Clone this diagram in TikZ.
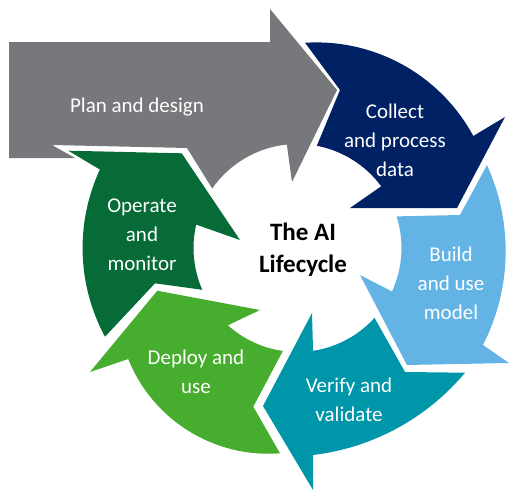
\documentclass[tikz,border=0pt]{standalone}
\usepackage{fontspec}
\setmainfont{Carlito}
\usepackage{tikz}
\usetikzlibrary{calc}
\definecolor{plangray}{RGB}{118,120,123}
\definecolor{collectnavy}{RGB}{0,33,100}
\definecolor{buildblue}{RGB}{99,180,228}
\definecolor{verifyteal}{RGB}{0,150,170}
\definecolor{deploygreen}{RGB}{70,173,46}
\definecolor{operategreen}{RGB}{6,107,55}
\tikzset{%
    stage/.style={%
        text=white, align=center, inner sep=0pt,
        font=\fontsize{21}{29}\selectfont
    },
    hub/.style={%
        text=black, align=center, inner sep=0pt,
        font=\bfseries\fontsize{25}{32}\selectfont
    }
}
\begin{document}
\begin{tikzpicture}[x=1pt,y=-1pt]
    \useasboundingbox (0,0) rectangle (509,490);
    \coordinate (hole) at (297.5,248);
    \fill[plangray] (9,42) -- (270,42) -- (270,9) -- (337,90) -- (292,182)
        -- ($(hole)+(-95.9:104)$) arc[start angle=-95.9, end angle=-145.1, radius=104]
        -- (187,148) -- (52,145) -- (75,158) -- (9,158) -- cycle;
    \fill[collectnavy] (305,42.7) -- (340,90)
        -- ($(hole)+(-79.3:104)$) arc[start angle=-79.3, end angle=-36.4, radius=104]
        -- (350,208) -- (457,208) -- (505,117) -- (473.3,136)
        arc[start angle=-28.4, end angle=-93.6, radius=178.5] -- cycle;
    \fill[buildblue] (487,165) -- (460,215)
        -- ($(hole)+(-17.7:104)$) arc[start angle=-17.7, end angle=24.7, radius=104]
        -- (360,275) -- (407,365) -- (509,363) -- (483,345)
        arc[start angle=27.1, end angle=-24.6, radius=206.5] -- cycle;
    \fill[verifyteal] ($(hole)+(42.2:104)$) -- (405,372) -- (465,372.7)
        arc[start angle=39.9, end angle=83.2, radius=234.1]
        -- (313,490) -- (263,406) -- (312,313)
        -- ($(hole)+(81.4:104)$) arc[start angle=81.4, end angle=42.2, radius=104] -- cycle;
    \fill[deploygreen] (157.3,290.7) -- (260,310)
        -- ($(hole)+(132:104)$) arc[start angle=132, end angle=98.1, radius=104]
        -- (253.3,406.7) -- (280,453.3)
        arc[start angle=85.6, end angle=158.1, radius=151.1] -- (90,372) -- cycle;
    \fill[operategreen] (68.3,150.7) -- (181.7,153.3) -- (240,240)
        -- ($(hole)+(193:104)$) arc[start angle=193, end angle=156.3, radius=104]
        -- (155,283.3) -- (105,336.7)
        arc[start angle=151.6, end angle=204.9, radius=186.4] -- cycle;
    \node[stage] (plan) at (137,107) {Plan and design};
    \node[stage] (collect) at (395,140) {Collect\\and process\\data};
    \node[stage] (build) at (451,283) {Build\\and use\\model};
    \node[stage] (verify) at (349,400) {Verify and\\validate};
    \node[stage] (deploy) at (196,372) {Deploy and\\use};
    \node[stage] (operate) at (142,235) {Operate\\and\\monitor};
    \node[hub] (title) at (303,250) {The AI\\Lifecycle};
\end{tikzpicture}
\end{document}
